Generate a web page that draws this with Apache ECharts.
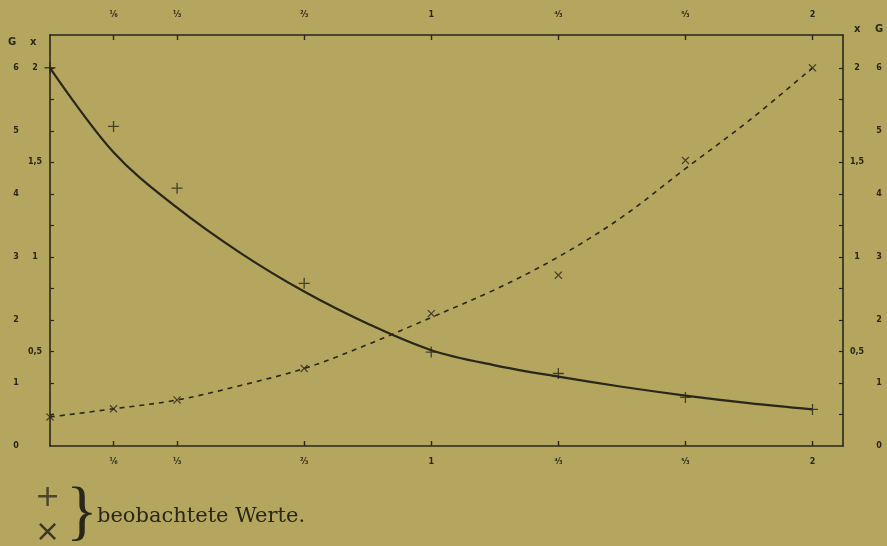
<!DOCTYPE html>
<html>
<head>
<meta charset="utf-8">
<title>G und x</title>
<script src="https://cdn.jsdelivr.net/npm/echarts@6/dist/echarts.min.js"></script>
<style>
  html, body { margin: 0; padding: 0; background: #b4a65e; }
  #chart { width: 887px; height: 546px; }
</style>
</head>
<body>
<div id="chart"></div>
<script>
// horizontal scale (top and bottom)
const xTicks = [1 / 6, 1 / 3, 2 / 3, 1, 4 / 3, 5 / 3, 2];
const xTickLabels = ['⅙', '⅓', '⅔', '1', '⁴⁄₃', '⁵⁄₃', '2'];

// vertical scales: G on the outside, x on the inside
const gTicks = [0, 1, 2, 3, 4, 5, 6];
const xScaleTicks = [0.5, 1, 1.5, 2];
const xScaleLabels = ['0,5', '1', '1,5', '2'];
const minorTicks = [0.5, 1, 1.5, 2, 2.5, 3, 3.5, 4, 4.5, 5, 5.5, 6];

// drawn curves (in G units), read every 1/6
const curveX = [0, 1 / 6, 1 / 3, 1 / 2, 2 / 3, 5 / 6, 1, 7 / 6, 4 / 3, 3 / 2, 5 / 3, 11 / 6, 2];
const solidG = [6.0, 4.66, 3.78, 3.06, 2.45, 1.94, 1.52, 1.28, 1.10, 0.94, 0.80, 0.68, 0.58];
const dashedG = [0.46, 0.59, 0.73, 0.96, 1.23, 1.61, 2.04, 2.48, 3.00, 3.63, 4.40, 5.16, 6.0];

// beobachtete Werte
const plusX = [0, 1 / 6, 1 / 3, 2 / 3, 1, 4 / 3, 5 / 3, 2];
const plusG = [6.0, 5.07, 4.09, 2.58, 1.49, 1.15, 0.77, 0.58];
const crossX = [0, 1 / 6, 1 / 3, 2 / 3, 1, 4 / 3, 5 / 3, 2];
const crossG = [0.46, 0.59, 0.73, 1.23, 2.10, 2.71, 4.53, 6.0];

const ink = '#29261a';
const X_MAX = 2.08;
const G_MAX = 6.52;

const pair = (xs, ys) => xs.map((x, i) => [x, ys[i]]);
const fracLabel = v => {
  const i = xTicks.findIndex(t => Math.abs(t - v) < 1e-6);
  return i >= 0 ? xTickLabels[i] : '';
};
const plusPath = 'path://M4.4,0h1.2v4.4h4.4v1.2h-4.4v4.4h-1.2v-4.4h-4.4v-1.2h4.4z';

const tickLabelStyle = {
  color: ink,
  fontSize: 8,
  fontWeight: 'bold',
  fontFamily: 'DejaVu Sans',
};

const horizontal = position => ({
  type: 'value',
  position,
  min: 0,
  max: X_MAX,
  axisLine: { show: true, onZero: false, lineStyle: { color: ink, width: 1.6 } },
  axisTick: { show: true, inside: true, length: 5, customValues: xTicks, lineStyle: { color: ink, width: 1.4 } },
  axisLabel: { ...tickLabelStyle, margin: position === 'top' ? 16 : 12, customValues: xTicks, formatter: fracLabel },
  splitLine: { show: false },
});

const vertical = (position, max, ticks, labels, margin, line) => ({
  type: 'value',
  position,
  min: 0,
  max,
  axisLine: { show: line, onZero: false, lineStyle: { color: ink, width: 1.6 } },
  axisTick: {
    show: line,
    inside: true,
    length: 4,
    customValues: minorTicks,
    lineStyle: { color: ink, width: 1.2 },
  },
  axisLabel: {
    ...tickLabelStyle,
    margin,
    align: 'center',
    customValues: ticks,
    formatter: v => {
      const i = ticks.findIndex(t => Math.abs(t - v) < 1e-6);
      return labels[i];
    },
  },
  splitLine: { show: false },
});

const chart = echarts.init(document.getElementById('chart'));
chart.setOption({
  backgroundColor: '#b4a65e',
  animation: false,
  grid: { left: 50, right: 44, top: 35, bottom: 100 },
  xAxis: [horizontal('bottom'), horizontal('top')],
  yAxis: [
    vertical('left', G_MAX, gTicks, gTicks.map(String), 34, true),
    vertical('left', G_MAX / 3, xScaleTicks, xScaleLabels, 15, false),
    vertical('right', G_MAX / 3, xScaleTicks, xScaleLabels, 14, false),
    vertical('right', G_MAX, gTicks, gTicks.map(String), 36, true),
  ],
  series: [
    {
      name: 'G',
      type: 'line',
      data: pair(curveX, solidG),
      smooth: 0.35,
      symbol: 'none',
      lineStyle: { color: ink, width: 2.2 },
    },
    {
      name: 'x',
      type: 'line',
      data: pair(curveX, dashedG),
      smooth: 0.35,
      symbol: 'none',
      lineStyle: { color: ink, width: 1.6, type: [5, 5] },
    },
    {
      name: '+',
      type: 'scatter',
      data: pair(plusX, plusG),
      symbol: plusPath,
      symbolSize: 11,
      itemStyle: { color: ink },
      z: 5,
    },
    {
      name: '×',
      type: 'scatter',
      data: pair(crossX, crossG),
      symbol: plusPath,
      symbolRotate: 45,
      symbolSize: 10,
      itemStyle: { color: ink },
      z: 5,
    },
  ],
  graphic: [
    // Achsenbezeichnungen
    { type: 'text', left: 8, top: 37, style: { text: 'G', fill: ink, font: 'bold 10px DejaVu Sans' } },
    { type: 'text', left: 30, top: 37, style: { text: 'x', fill: ink, font: 'bold 10px DejaVu Sans' } },
    { type: 'text', left: 854, top: 24, style: { text: 'x', fill: ink, font: 'bold 10px DejaVu Sans' } },
    { type: 'text', left: 875, top: 24, style: { text: 'G', fill: ink, font: 'bold 10px DejaVu Sans' } },
    // Legende
    { type: 'text', left: 35, top: 483, style: { text: '+', fill: '#4a4530', font: '30px DejaVu Sans' } },
    { type: 'text', left: 35, top: 518, style: { text: '×', fill: '#3b3722', font: '30px DejaVu Sans' } },
    { type: 'text', left: 66, top: 482, style: { text: '}', fill: ink, font: '66px Liberation Serif' } },
    { type: 'text', left: 97, top: 506, style: { text: 'beobachtete Werte.', fill: ink, font: '21px DejaVu Serif' } },
  ],
});
</script>
</body>
</html>
